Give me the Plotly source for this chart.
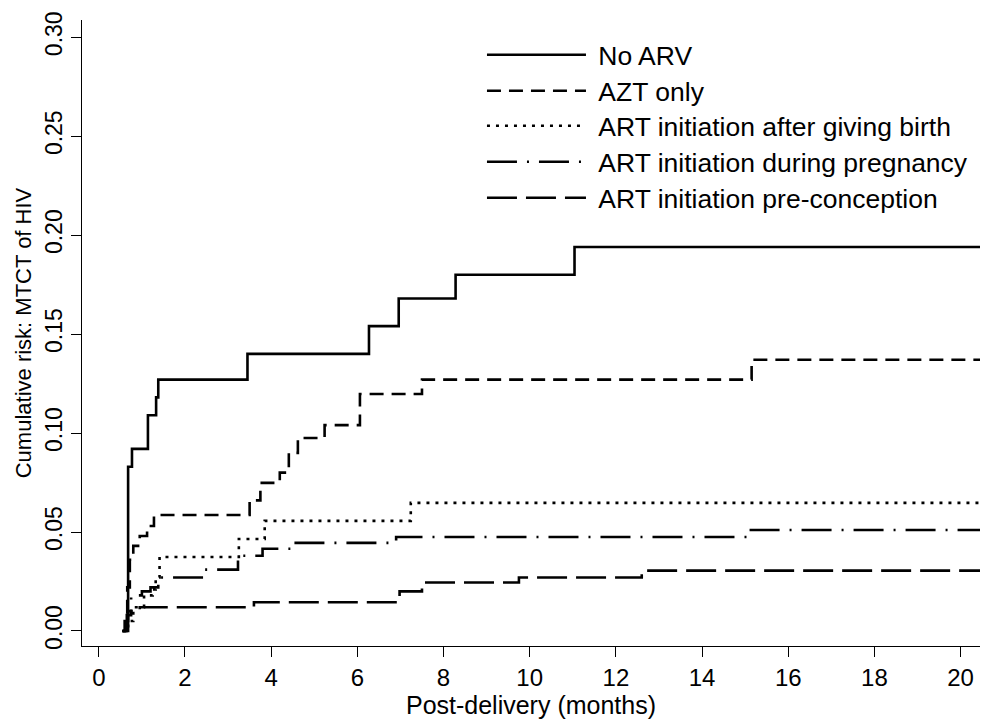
import plotly.graph_objects as go

# ---- data ----
series_names = [
    "No ARV",
    "AZT only",
    "ART initiation after giving birth",
    "ART initiation during pregnancy",
    "ART initiation pre-conception",
]

noarv_t = [0.55, 0.68, 0.77, 1.14, 1.33, 1.38, 3.45, 6.27, 6.96, 8.28, 11.04, 20.45]
noarv_y = [0.000, 0.083, 0.092, 0.109, 0.118, 0.127, 0.140, 0.154, 0.168, 0.180, 0.194, 0.194]

azt_t = [0.55, 0.62, 0.66, 0.72, 0.80, 0.95, 1.12, 1.28, 3.50, 3.75, 4.20, 4.41, 4.62, 5.24, 6.06, 7.50, 15.15, 20.45]
azt_y = [0.000, 0.008, 0.022, 0.036, 0.043, 0.048, 0.053, 0.0586, 0.066, 0.0748, 0.080, 0.090, 0.0975, 0.104, 0.1197, 0.127, 0.137, 0.137]

after_t = [0.55, 0.68, 0.80, 1.05, 1.25, 1.32, 1.41, 3.25, 3.85, 7.24, 20.45]
after_y = [0.000, 0.005, 0.012, 0.018, 0.021, 0.027, 0.0374, 0.0465, 0.0556, 0.0647, 0.0647]

during_t = [0.55, 0.65, 0.75, 1.00, 1.20, 1.38, 2.45, 3.23, 3.80, 4.50, 6.90, 15.10, 20.45]
during_y = [0.000, 0.008, 0.018, 0.020, 0.022, 0.027, 0.031, 0.038, 0.0415, 0.0445, 0.0475, 0.051, 0.051]

pre_t = [0.55, 0.60, 0.68, 0.95, 3.60, 6.98, 7.50, 9.75, 12.60, 20.45]
pre_y = [0.000, 0.005, 0.010, 0.012, 0.0145, 0.020, 0.0245, 0.027, 0.0305, 0.0305]

x_ticks = [0, 2, 4, 6, 8, 10, 12, 14, 16, 18, 20]
y_ticks = [0.00, 0.05, 0.10, 0.15, 0.20, 0.25, 0.30]
y_ticklabels = ["0.00", "0.05", "0.10", "0.15", "0.20", "0.25", "0.30"]

series_t = [noarv_t, azt_t, after_t, during_t, pre_t]
series_y = [noarv_y, azt_y, after_y, during_y, pre_y]
dashes = ["solid", "14px,8px", "3px,6px", "30px,10px,2px,10px", "30px,9px"]

FONT = "Liberation Sans, Arial, Helvetica, sans-serif"
NBSP = "\u00a0"

# plot area: top 20 px, bottom 646 px (626 px tall); legend rows (px from top)
PLOT_TOP, PLOT_H = 20, 626
legend_rows_px = [55, 91, 126, 162, 198]

fig = go.Figure()
legend_layouts = {}
for i, (name, t, y, d) in enumerate(zip(series_names, series_t, series_y, dashes)):
    key = "legend" if i == 0 else f"legend{i + 1}"
    fig.add_trace(go.Scatter(
        x=t, y=y, mode="lines", name=NBSP + name,
        line=dict(shape="hv", color="black", width=2.6, dash=d),
        legend=key,
        hoverinfo="skip",
    ))
    legend_layouts[key] = dict(
        x=0.4454, y=1 - (legend_rows_px[i] - PLOT_TOP) / PLOT_H,
        xanchor="left", yanchor="middle",
        bgcolor="rgba(0,0,0,0)", borderwidth=0,
        font=dict(family=FONT, size=26.5, color="black"),
        itemwidth=99,
        itemclick=False, itemdoubleclick=False,
    )

fig.update_layout(
    width=982, height=719,
    margin=dict(l=82, r=2, t=20, b=73),
    paper_bgcolor="white", plot_bgcolor="white",
    font=dict(family=FONT, size=24, color="black"),
    showlegend=True,
    **legend_layouts,
    xaxis=dict(
        range=[-0.39, 20.45], tickmode="array", tickvals=x_ticks,
        showgrid=False, zeroline=False, showline=True, linecolor="black", linewidth=1.3,
        ticks="outside", ticklen=10, tickwidth=1.3, tickcolor="black",
        tickfont=dict(family=FONT, size=24), automargin=False,
        title=dict(text="Post-delivery (months)", font=dict(family=FONT, size=25), standoff=0),
    ),
    yaxis=dict(
        range=[-0.0076, 0.3087], tickmode="array", tickvals=y_ticks, ticktext=y_ticklabels,
        tickangle=-90,
        showgrid=False, zeroline=False, showline=True, linecolor="black", linewidth=1.3,
        ticks="outside", ticklen=10, tickwidth=1.3, tickcolor="black",
        tickfont=dict(family=FONT, size=23), automargin=False,
        title=dict(text="Cumulative risk: MTCT of HIV", font=dict(family=FONT, size=22), standoff=2),
    ),
)

fig.write_html(
    "out.html",
    config={"displayModeBar": False},
    post_script="document.body.style.margin='0';document.body.style.overflow='hidden';",
)
